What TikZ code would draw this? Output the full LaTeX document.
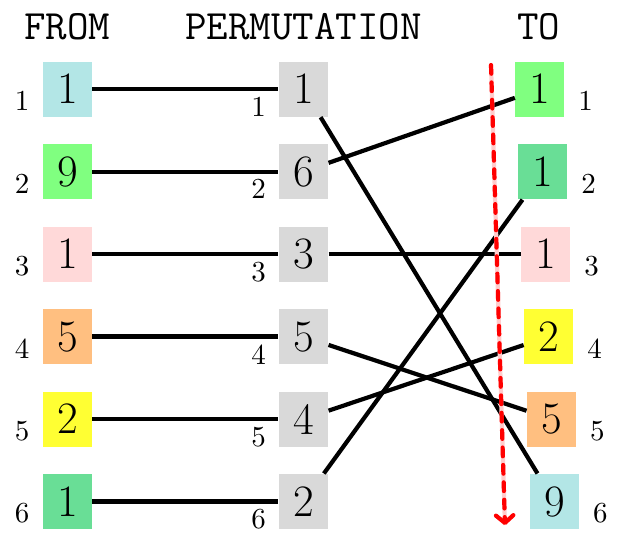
\documentclass[tikz,border=0pt]{standalone}
\usetikzlibrary{calc,arrows.meta}

\definecolor{boxcyan}{RGB}{179,230,230}
\definecolor{boxgreen}{RGB}{128,255,128}
\definecolor{boxpink}{RGB}{255,217,217}
\definecolor{boxorange}{RGB}{255,191,128}
\definecolor{boxyellow}{RGB}{255,255,51}
\definecolor{boxteal}{RGB}{105,222,150}
\definecolor{boxgray}{RGB}{217,217,217}

\begin{document}
\begin{tikzpicture}
  \tikzset{cell/.style={minimum width=0.594cm, minimum height=0.667cm, inner sep=0pt,
      font=\fontsize{15.5}{18}\selectfont}}
  \useasboundingbox (0,0) rectangle (7.552,-6.594);
  \node[anchor=base, font=\ttfamily\Large] (hfrom) at (0.817,-0.473) {FROM};
  \node[anchor=base, font=\ttfamily\Large] (hperm) at (3.679,-0.473) {PERMUTATION};
  \node[anchor=base, font=\ttfamily\Large] (hto) at (6.53,-0.473) {TO};
  \foreach[count=\i] \v/\c in {1/boxcyan,9/boxgreen,1/boxpink,5/boxorange,2/boxyellow,1/boxteal}{
    \node[cell, fill=\c] (f\i) at (0.817,{-1.08-(\i-1)}) {\v};
    \node (fi\i) at (0.267,{-1.225-(\i-1)}) {\i};
  }
  \foreach[count=\i] \v in {1,6,3,5,4,2}{
    \node[cell, fill=boxgray] (p\i) at (3.679,{-1.08-(\i-1)}) {\v};
    \node (pi\i) at (3.135,{-1.295-(\i-1)}) {\i};
  }
  \foreach[count=\i] \v/\c in {1/boxgreen,1/boxteal,1/boxpink,2/boxyellow,5/boxorange,9/boxcyan}{
    \node[cell, fill=\c] (t\i) at ({6.545+0.0355*(\i-1)},{-1.08-(\i-1)}) {\v};
    \node (ti\i) at ({7.1+0.0355*(\i-1)},{-1.225-(\i-1)}) {\i};
  }
  \foreach \i in {1,...,6}{
    \draw[line width=1.45pt] (f\i) -- (p\i);
  }
  \foreach \i/\j in {1/6,2/1,3/3,4/5,5/4,6/2}{
    \draw[line width=1.45pt] (p\i) -- (t\j);
  }
  \coordinate (scantop) at (5.952,-0.788);
  \coordinate (scanend) at (6.121,-6.364);
  \draw[line width=1.45pt, red!20] (scantop) -- (scanend);
  \draw[line width=1.45pt, red, dashed, line cap=round,
    -{Straight Barb[length=2.6pt,width=6pt,round]}] (scantop) -- (scanend);
\end{tikzpicture}
\end{document}
